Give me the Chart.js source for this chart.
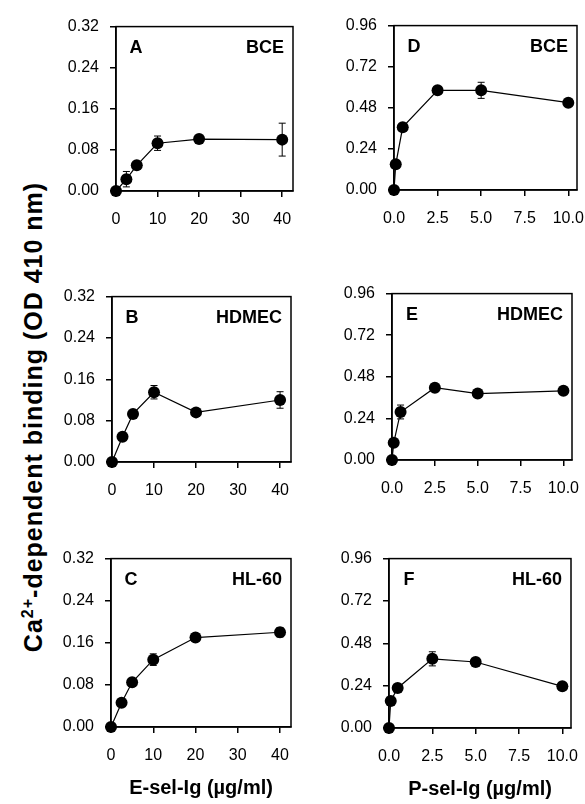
<!DOCTYPE html>
<html>
<head>
<meta charset="utf-8">
<script src="https://cdn.jsdelivr.net/npm/chart.js@4/dist/chart.umd.min.js"></script>
<style>
  html, body { margin: 0; padding: 0; background: #fff; }
  body { width: 585px; height: 804px; position: relative; overflow: hidden; font-family: "Liberation Sans", Arial, sans-serif; }
  canvas { position: absolute; }
  #ytitle {
    position: absolute; left: 33px; top: 417px;
    transform: translate(-50%, -50%) rotate(-90deg);
    font-weight: bold; font-size: 25px; line-height: 1; letter-spacing: 1px;
    white-space: nowrap; color: #000;
  }
  #ytitle sup { font-size: 16px; vertical-align: 9px; line-height: 0; }
</style>
</head>
<body>
<div id="ytitle">Ca<sup>2+</sup>-dependent binding (OD 410 nm)</div>
<script>
// doses (µg/ml)
const eselDose = [0, 2.5, 5, 10, 20, 40];
const pselDose = [0, 0.1, 0.5, 2.5, 5, 10];

// binding, OD 410 nm (mean and error)
const bindA = [0, 0.023, 0.050, 0.093, 0.101, 0.100];
const errA  = [0, 0.015, 0.004, 0.014, 0.004, 0.032];
const bindB = [0, 0.049, 0.093, 0.135, 0.096, 0.120];
const errB  = [0, 0.004, 0.004, 0.013, 0.005, 0.016];
const bindC = [0, 0.046, 0.085, 0.128, 0.170, 0.180];
const errC  = [0, 0.003, 0.004, 0.011, 0.005, 0.009];
const bindD = [0, 0.150, 0.367, 0.582, 0.582, 0.510];
const errD  = [0, 0.010, 0.010, 0.020, 0.047, 0.015];
const bindE = [0, 0.099, 0.277, 0.417, 0.383, 0.399];
const errE  = [0, 0.010, 0.040, 0.015, 0.015, 0.015];
const bindF = [0, 0.153, 0.227, 0.392, 0.374, 0.236];
const errF  = [0, 0.010, 0.010, 0.040, 0.020, 0.010];

// tick labels
const eselTicks = [0, 10, 20, 30, 40];
const pselTicks = [0, 2.5, 5, 7.5, 10];
const lowTicks  = [0, 0.08, 0.16, 0.24, 0.32];
const highTicks = [0, 0.24, 0.48, 0.72, 0.96];

const FONT = '"Liberation Sans", Arial, sans-serif';

const panels = [
  { letter: 'A', cells: 'BCE',   x: eselDose, y: bindA, err: errA, xt: eselTicks, yt: lowTicks,  xMax: 42.6, dec: 0, box: [116, 22, 177, 169] },
  { letter: 'B', cells: 'HDMEC', x: eselDose, y: bindB, err: errB, xt: eselTicks, yt: lowTicks,  xMax: 42.6, dec: 0, box: [112, 292, 179, 170] },
  { letter: 'C', cells: 'HL-60', x: eselDose, y: bindC, err: errC, xt: eselTicks, yt: lowTicks,  xMax: 42.6, dec: 0, box: [111, 554, 180, 173], title: 'E-sel-Ig (\u00b5g/ml)' },
  { letter: 'D', cells: 'BCE',   x: pselDose, y: bindD, err: errD, xt: pselTicks, yt: highTicks, xMax: 10.5, dec: 1, box: [394, 21, 183, 169] },
  { letter: 'E', cells: 'HDMEC', x: pselDose, y: bindE, err: errE, xt: pselTicks, yt: highTicks, xMax: 10.5, dec: 1, box: [392, 289, 180, 171] },
  { letter: 'F', cells: 'HL-60', x: pselDose, y: bindF, err: errF, xt: pselTicks, yt: highTicks, xMax: 10.5, dec: 1, box: [389, 554, 182, 174], title: 'P-sel-Ig (\u00b5g/ml)' }
];

// error bars, drawn under the markers
const errorBars = {
  id: 'errorBars',
  beforeDatasetsDraw(chart) {
    const { ctx, scales: { x, y } } = chart;
    const ds = chart.data.datasets[0];
    ctx.save();
    ctx.strokeStyle = '#000';
    ctx.lineWidth = 1;
    ds.data.forEach((p, i) => {
      const e = ds.errors[i];
      if (!e) return;
      const px = x.getPixelForValue(p.x);
      const top = y.getPixelForValue(p.y + e);
      const bot = y.getPixelForValue(p.y - e);
      ctx.beginPath();
      ctx.moveTo(px, top); ctx.lineTo(px, bot);
      ctx.moveTo(px - 3.5, top); ctx.lineTo(px + 3.5, top);
      ctx.moveTo(px - 3.5, bot); ctx.lineTo(px + 3.5, bot);
      ctx.stroke();
    });
    ctx.restore();
  }
};

// closed frame and the panel captions
const frame = {
  id: 'frame',
  beforeDatasetsDraw(chart, args, opts) {
    const { ctx, chartArea: a } = chart;
    ctx.save();
    ctx.strokeStyle = '#000';
    ctx.lineWidth = 1.5;
    ctx.strokeRect(a.left, a.top, a.right - a.left, a.bottom - a.top);
    ctx.fillStyle = '#000';
    ctx.font = 'bold 18px ' + FONT;
    ctx.textBaseline = 'middle';
    ctx.textAlign = 'center';
    ctx.fillText(opts.letter, a.left + 20, a.top + 21);
    ctx.textAlign = 'right';
    ctx.fillText(opts.cells, a.right - 9, a.top + 21);
    ctx.restore();
  }
};

const padL = 70, padT = 16, padR = 24;

panels.forEach(p => {
  const [left, top, w, h] = p.box;
  const xAxisH = p.title ? 77 : 45;
  const cv = document.createElement('canvas');
  cv.width = padL + w + padR;
  cv.height = padT + h + xAxisH;
  cv.style.left = (left - padL) + 'px';
  cv.style.top = (top - padT) + 'px';
  cv.style.width = cv.width + 'px';
  cv.style.height = cv.height + 'px';
  document.body.appendChild(cv);

  new Chart(cv.getContext('2d'), {
    type: 'line',
    data: {
      datasets: [{
        data: p.x.map((v, i) => ({ x: v, y: p.y[i] })),
        errors: p.err,
        borderColor: '#000',
        borderWidth: 1.2,
        backgroundColor: '#000',
        pointRadius: 6,
        pointBorderWidth: 0,
        pointBackgroundColor: '#000',
        tension: 0,
        clip: false
      }]
    },
    options: {
      responsive: false,
      animation: false,
      layout: { padding: { left: 0, top: padT, right: padR, bottom: 0 } },
      plugins: {
        legend: { display: false },
        tooltip: { enabled: false },
        frame: { letter: p.letter, cells: p.cells }
      },
      scales: {
        x: {
          type: 'linear',
          min: 0,
          max: p.xMax,
          afterBuildTicks: s => { s.ticks = p.xt.map(v => ({ value: v })); },
          afterFit: s => { s.height = xAxisH; },
          grid: { drawOnChartArea: false, drawTicks: true, tickLength: 6, color: '#000', lineWidth: 1.5 },
          border: { display: true, color: '#000', width: 1.5 },
          ticks: {
            color: '#000',
            padding: 13,
            maxRotation: 0,
            font: { family: FONT, size: 16 },
            callback: v => v.toFixed(p.dec)
          },
          title: {
            display: !!p.title,
            text: p.title || '',
            color: '#000',
            font: { family: FONT, size: 20, weight: 'bold' }
          }
        },
        y: {
          type: 'linear',
          min: 0,
          max: p.yt[p.yt.length - 1],
          afterBuildTicks: s => { s.ticks = p.yt.map(v => ({ value: v })); },
          afterFit: s => { s.width = padL; },
          grid: { drawOnChartArea: false, drawTicks: true, tickLength: 6, color: '#000', lineWidth: 1.5 },
          border: { display: true, color: '#000', width: 1.5 },
          ticks: {
            color: '#000',
            padding: 11,
            font: { family: FONT, size: 16 },
            callback: v => v.toFixed(2)
          }
        }
      }
    },
    plugins: [errorBars, frame]
  });
});
</script>
</body>
</html>
